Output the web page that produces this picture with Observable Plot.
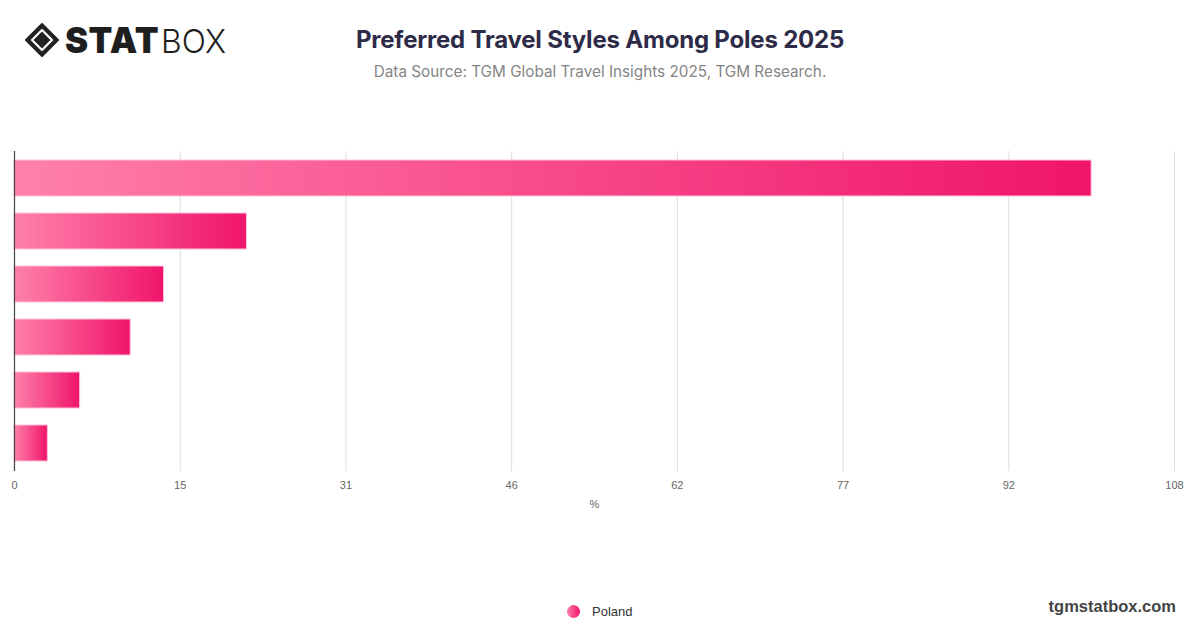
<!DOCTYPE html>
<html>
<head>
<meta charset="utf-8">
<script src="https://cdn.jsdelivr.net/npm/d3@7"></script>
<script src="https://cdn.jsdelivr.net/npm/@observablehq/plot@0.6"></script>
<style>
  html, body { margin: 0; padding: 0; background: #fff; }
  #page { position: relative; width: 1200px; height: 628px; overflow: hidden; font-family: Inter, "Liberation Sans", Arial, sans-serif; }
  #title { position: absolute; left: 0; width: 1200px; top: 25px; text-align: center; font-size: 24px; font-weight: 700; color: #2e2b48; letter-spacing: -0.2px; }
  #subtitle { position: absolute; left: 0; width: 1200px; top: 62px; text-align: center; font-size: 15.3px; color: #858585; }
  #chart { position: absolute; left: 0; top: 120px; }
  #legend { position: absolute; top: 604px; left: 567px; display: flex; align-items: center; font-size: 13px; color: #333; font-family: "Liberation Sans", Arial, sans-serif; }
  #legend .dot { width: 13px; height: 13px; border-radius: 50%; background: linear-gradient(90deg, #ff7fab, #f0136a); margin-right: 12px; }
  #footer { position: absolute; right: 24px; top: 597px; font-size: 16.5px; font-weight: 700; color: #444; font-family: "Liberation Sans", Arial, sans-serif; }
  #logo { position: absolute; left: 24px; top: 10px; overflow: visible; }
</style>
</head>
<body>
<div id="page">
  <svg id="logo" width="220" height="60" viewBox="0 0 220 60">
    <g transform="translate(18,30)">
      <path d="M0,-16 L16,0 L0,16 L-16,0 Z" fill="#222" stroke="#222" stroke-width="2" stroke-linejoin="round"/>
      <path d="M0,-10 L10,0 L0,10 L-10,0 Z" fill="#222" stroke="#fff" stroke-width="2.2" stroke-linejoin="round"/>
    </g>
    <text x="41" y="43" font-family="Inter, 'DejaVu Sans', sans-serif" font-size="36" font-weight="900" fill="#1e1e1e" letter-spacing="0.5" textLength="94" lengthAdjust="spacingAndGlyphs">STAT</text>
    <text x="137" y="43" font-family="Inter, 'DejaVu Sans', sans-serif" font-size="33" font-weight="300" fill="#1e1e1e" textLength="65" lengthAdjust="spacingAndGlyphs">BOX</text>
  </svg>
  <div id="title">Preferred Travel Styles Among Poles 2025</div>
  <div id="subtitle">Data Source: TGM Global Travel Insights 2025, TGM Research.</div>
  <div id="chart"></div>
  <div id="legend"><span class="dot"></span><span>Poland</span></div>
  <div id="footer">tgmstatbox.com</div>
</div>
<script>
// Data (category names are not shown in the reference chart)
const categories = ["Style 1", "Style 2", "Style 3", "Style 4", "Style 5", "Style 6"];
const values = [100.1, 21.6, 13.9, 10.8, 6.1, 3.1];
const seriesName = "Poland";
const xMax = 107.8;
const tickCount = 7;
const axisLabel = "%";

const data = categories.map((c, i) => ({category: c, value: values[i], series: seriesName}));
const ticks = d3.range(tickCount + 1).map(i => xMax * i / tickCount);

const chart = Plot.plot({
  width: 1200,
  height: 420,
  marginLeft: 14,
  marginRight: 26,
  marginTop: 31,
  marginBottom: 69,
  style: {fontFamily: "'Liberation Sans', Arial, sans-serif", fontSize: "11px", color: "#666", background: "transparent"},
  x: {domain: [0, xMax]},
  y: {domain: categories, paddingInner: 0.32, paddingOuter: 0.16, axis: null},
  marks: [
    Plot.gridX(ticks, {stroke: "#dcdcdc", strokeOpacity: 1}),
    Plot.barX(data, {x: "value", y: "category", fill: "url(#barGrad)", stroke: "#ffc4d9", strokeWidth: 1}),
    Plot.ruleX([0], {stroke: "#444", strokeWidth: 1.2}),
    Plot.axisX(ticks, {tickSize: 0, tickPadding: 10, tickFormat: d => Math.round(d), label: null, fill: "#666"}),
    Plot.text([axisLabel], {frameAnchor: "bottom", dy: 36, fill: "#666", fontSize: 11})
  ]
});

const defs = d3.select(chart).insert("defs", ":first-child");
const grad = defs.append("linearGradient").attr("id", "barGrad").attr("x1", "0").attr("x2", "1").attr("y1", "0").attr("y2", "0");
grad.append("stop").attr("offset", "0%").attr("stop-color", "#ff80ab");
grad.append("stop").attr("offset", "100%").attr("stop-color", "#f0146a");

document.getElementById("chart").appendChild(chart);
</script>
</body>
</html>
